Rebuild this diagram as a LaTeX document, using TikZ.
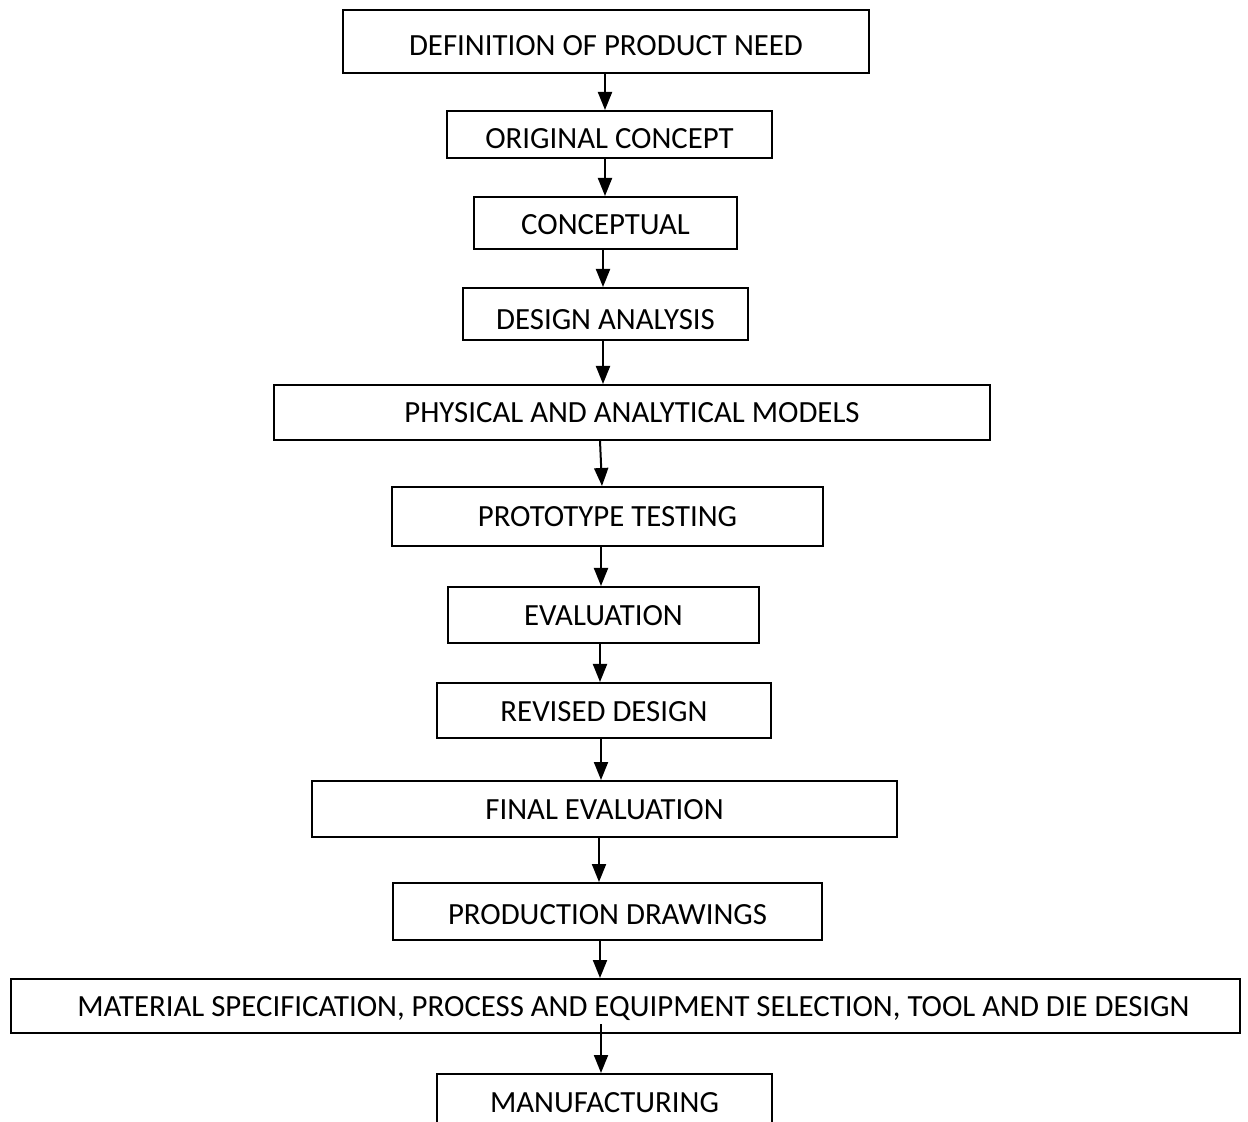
\documentclass[tikz,border=0pt]{standalone}
\usepackage{fontspec}
\setmainfont{Carlito}
\usetikzlibrary{arrows.meta}
\newcommand{\lowered}[2]{\raisebox{-#1}{#2}}
\begin{document}
\begin{tikzpicture}[x=0.5pt,y=-0.5pt,
  box/.style={draw, line width=1pt, inner sep=0pt,
    font=\fontsize{15.4}{18}\selectfont, text height=9.9pt, text depth=0pt},
  arr/.style={line width=1pt, -{Triangle[length=9pt,width=7pt]}}]
\useasboundingbox (0,0) rectangle (1248,1122);
\clip (0,0) rectangle (1248,1122);

% process steps, top to bottom
\node[box, minimum width=263pt,   minimum height=31.5pt] (n1)  at (606,41.5)   {\lowered{2.25pt}{DEFINITION OF PRODUCT NEED}};
\node[box, minimum width=162.5pt, minimum height=23.5pt] (n2)  at (609.5,134.5) {\lowered{2.25pt}{ORIGINAL CONCEPT}};
\node[box, minimum width=131.5pt, minimum height=26pt]   (n3)  at (605.5,223)  {\lowered{1pt}{CONCEPTUAL}};
\node[box, minimum width=142.5pt, minimum height=26pt]   (n4)  at (605.5,314)  {\lowered{3pt}{DESIGN ANALYSIS}};
\node[box, minimum width=358pt,   minimum height=27.5pt] (n5)  at (632,412.5)  {\lowered{0pt}{PHYSICAL AND ANALYTICAL MODELS}};
\node[box, minimum width=215.5pt, minimum height=29.5pt] (n6)  at (607.5,516.5) {\lowered{0pt}{PROTOTYPE TESTING}};
\node[box, minimum width=155.5pt, minimum height=28pt]   (n7)  at (603.5,615)  {\lowered{0.5pt}{EVALUATION}};
\node[box, minimum width=167pt,   minimum height=27.5pt] (n8)  at (604,710.5)  {\lowered{0.75pt}{REVISED DESIGN}};
\node[box, minimum width=292.5pt, minimum height=28pt]   (n9)  at (604.5,809)  {\lowered{0.5pt}{FINAL EVALUATION}};
\node[box, minimum width=214.5pt, minimum height=28.5pt] (n10) at (607.5,911.5) {\lowered{1.75pt}{PRODUCTION DRAWINGS}};
\node[box, minimum width=614.5pt, minimum height=27pt]   (n11) at (625.5,1006) {\lowered{0.5pt}{\hspace{8pt}MATERIAL SPECIFICATION, PROCESS AND EQUIPMENT SELECTION, TOOL AND DIE DESIGN}};
\node[box, minimum width=167.5pt, minimum height=40pt]   (n12) at (604.5,1114) {\lowered{-5.5pt}{MANUFACTURING}};

% vertical guide lines for the connectors
\coordinate (x1) at (605,0);
\coordinate (x2) at (605,0);
\coordinate (x3) at (603,0);
\coordinate (x4) at (603,0);
\coordinate (x6) at (601,0);
\coordinate (x7) at (600,0);
\coordinate (x8) at (601,0);
\coordinate (x9) at (599,0);
\coordinate (x10) at (600,0);
\coordinate (x11) at (601,0);
\coordinate (a5) at (600,0);
\coordinate (b5) at (602,0);

\draw[arr] (n1.south -| x1) -- (n2.north -| x1);
\draw[arr] (n2.south -| x2) -- (n3.north -| x2);
\draw[arr] (n3.south -| x3) -- (n4.north -| x3);
\draw[arr] (n4.south -| x4) -- (n5.north -| x4);
\draw[arr] (n5.south -| a5) -- (n6.north -| b5);
\draw[arr] (n6.south -| x6) -- (n7.north -| x6);
\draw[arr] (n7.south -| x7) -- (n8.north -| x7);
\draw[arr] (n8.south -| x8) -- (n9.north -| x8);
\draw[arr] (n9.south -| x9) -- (n10.north -| x9);
\draw[arr] (n10.south -| x10) -- (n11.north -| x10);
\draw[arr] ([yshift=5pt]n11.south -| x11) -- (n12.north -| x11);
\end{tikzpicture}
\end{document}
